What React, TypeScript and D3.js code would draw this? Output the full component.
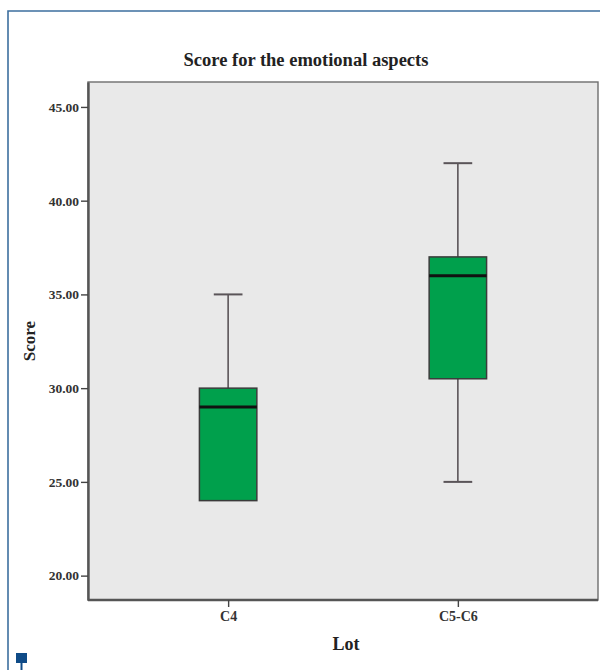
import React, { useEffect, useRef } from 'react';
import * as d3 from 'd3';

const categories = ['C4', 'C5-C6'];
const whiskerLow = [24, 25];
const quartile1 = [24, 30.5];
const medians = [29, 36];
const quartile3 = [30, 37];
const whiskerHigh = [35, 42];
const yTicks = [20, 25, 30, 35, 40, 45];

const App = () => {
    const ref = useRef<SVGSVGElement | null>(null);

    useEffect(() => {
        const svg = d3.select(ref.current);
        svg.selectAll('*').remove();

        const width = 600;
        const height = 670;
        const plot = { left: 88, right: 598, top: 82, bottom: 600 };
        const font = '"Liberation Serif", "DejaVu Serif", serif';

        svg.attr('width', width).attr('height', height);

        // blue page frame
        svg.append('path')
            .attr('d', `M8,${height} L8,11 L${width},11`)
            .attr('fill', 'none')
            .attr('stroke', '#3d6f9e')
            .attr('stroke-width', 1.6);
        svg.append('rect').attr('x', 16).attr('y', 653).attr('width', 11).attr('height', 10).attr('fill', '#0f4b87');
        svg.append('line').attr('x1', 21.5).attr('x2', 21.5).attr('y1', 660).attr('y2', height)
            .attr('stroke', '#0f4b87').attr('stroke-width', 2);

        const x = d3.scalePoint<string>().domain(categories).range([plot.left, plot.right]).padding(0.61);
        const y = d3.scaleLinear().domain([18.7, 46.33]).range([plot.bottom, plot.top]);
        const boxWidth = x.step() * 0.25;
        const capWidth = boxWidth * 0.5;

        // plot background
        svg.append('rect')
            .attr('x', plot.left).attr('y', plot.top)
            .attr('width', plot.right - plot.left).attr('height', plot.bottom - plot.top)
            .attr('fill', '#e9e9e9')
            .attr('stroke', '#6e6e6e').attr('stroke-width', 1.4);

        // title
        svg.append('text')
            .attr('x', 306).attr('y', 66)
            .attr('text-anchor', 'middle')
            .attr('font-family', font).attr('font-weight', 'bold').attr('font-size', 18.5)
            .attr('fill', '#222')
            .text('Score for the emotional aspects');

        // y axis
        const yAxis = svg.append('g')
            .attr('transform', `translate(${plot.left},0)`)
            .call(d3.axisLeft(y).tickValues(yTicks).tickSize(7).tickSizeOuter(0).tickPadding(2).tickFormat(d3.format('.2f')));
        yAxis.select('.domain').attr('stroke', '#555').attr('stroke-width', 2.4);
        yAxis.selectAll('.tick line').attr('stroke', '#444').attr('stroke-width', 1.4);
        yAxis.selectAll('.tick text')
            .attr('font-family', font).attr('font-size', 13.5).attr('font-weight', 'bold').attr('fill', '#333');

        // x axis
        const xAxis = svg.append('g')
            .attr('transform', `translate(0,${plot.bottom})`)
            .call(d3.axisBottom(x).tickSize(7).tickSizeOuter(0).tickPadding(4));
        xAxis.select('.domain').attr('stroke', '#555').attr('stroke-width', 2.4)
            .attr('d', `M${plot.left},0H${plot.right}`);
        xAxis.selectAll('.tick line').attr('stroke', '#444').attr('stroke-width', 1.4);
        xAxis.selectAll('.tick text')
            .attr('font-family', font).attr('font-size', 14).attr('font-weight', 'bold').attr('fill', '#333');

        // axis titles
        svg.append('text')
            .attr('x', 346).attr('y', 650)
            .attr('text-anchor', 'middle')
            .attr('font-family', font).attr('font-weight', 'bold').attr('font-size', 18)
            .attr('fill', '#222')
            .text('Lot');
        svg.append('text')
            .attr('transform', 'translate(35,341) rotate(-90)')
            .attr('text-anchor', 'middle')
            .attr('font-family', font).attr('font-weight', 'bold').attr('font-size', 17)
            .attr('fill', '#222')
            .text('Score');

        // boxes
        const boxes = categories.map((name, i) => ({
            name,
            lo: whiskerLow[i],
            q1: quartile1[i],
            med: medians[i],
            q3: quartile3[i],
            hi: whiskerHigh[i],
        }));

        const g = svg.append('g');
        boxes.forEach((b) => {
            const cx = x(b.name) as number;
            const whiskerStroke = '#5a5458';
            // upper whisker
            g.append('line').attr('x1', cx).attr('x2', cx).attr('y1', y(b.q3)).attr('y2', y(b.hi))
                .attr('stroke', whiskerStroke).attr('stroke-width', 1.6);
            g.append('line').attr('x1', cx - capWidth / 2).attr('x2', cx + capWidth / 2)
                .attr('y1', y(b.hi)).attr('y2', y(b.hi))
                .attr('stroke', whiskerStroke).attr('stroke-width', 2);
            // lower whisker
            if (b.lo < b.q1) {
                g.append('line').attr('x1', cx).attr('x2', cx).attr('y1', y(b.q1)).attr('y2', y(b.lo))
                    .attr('stroke', whiskerStroke).attr('stroke-width', 1.6);
                g.append('line').attr('x1', cx - capWidth / 2).attr('x2', cx + capWidth / 2)
                    .attr('y1', y(b.lo)).attr('y2', y(b.lo))
                    .attr('stroke', whiskerStroke).attr('stroke-width', 2);
            }
            // box
            g.append('rect')
                .attr('x', cx - boxWidth / 2).attr('y', y(b.q3))
                .attr('width', boxWidth).attr('height', y(b.q1) - y(b.q3))
                .attr('fill', '#00a04c')
                .attr('stroke', '#3b3b3b').attr('stroke-width', 1.5);
            // median
            g.append('line')
                .attr('x1', cx - boxWidth / 2).attr('x2', cx + boxWidth / 2)
                .attr('y1', y(b.med)).attr('y2', y(b.med))
                .attr('stroke', '#111').attr('stroke-width', 3);
        });
    }, []);

    return <svg ref={ref} style={{ display: 'block', position: 'absolute', left: 0, top: 0 }} />;
};

export default App;
